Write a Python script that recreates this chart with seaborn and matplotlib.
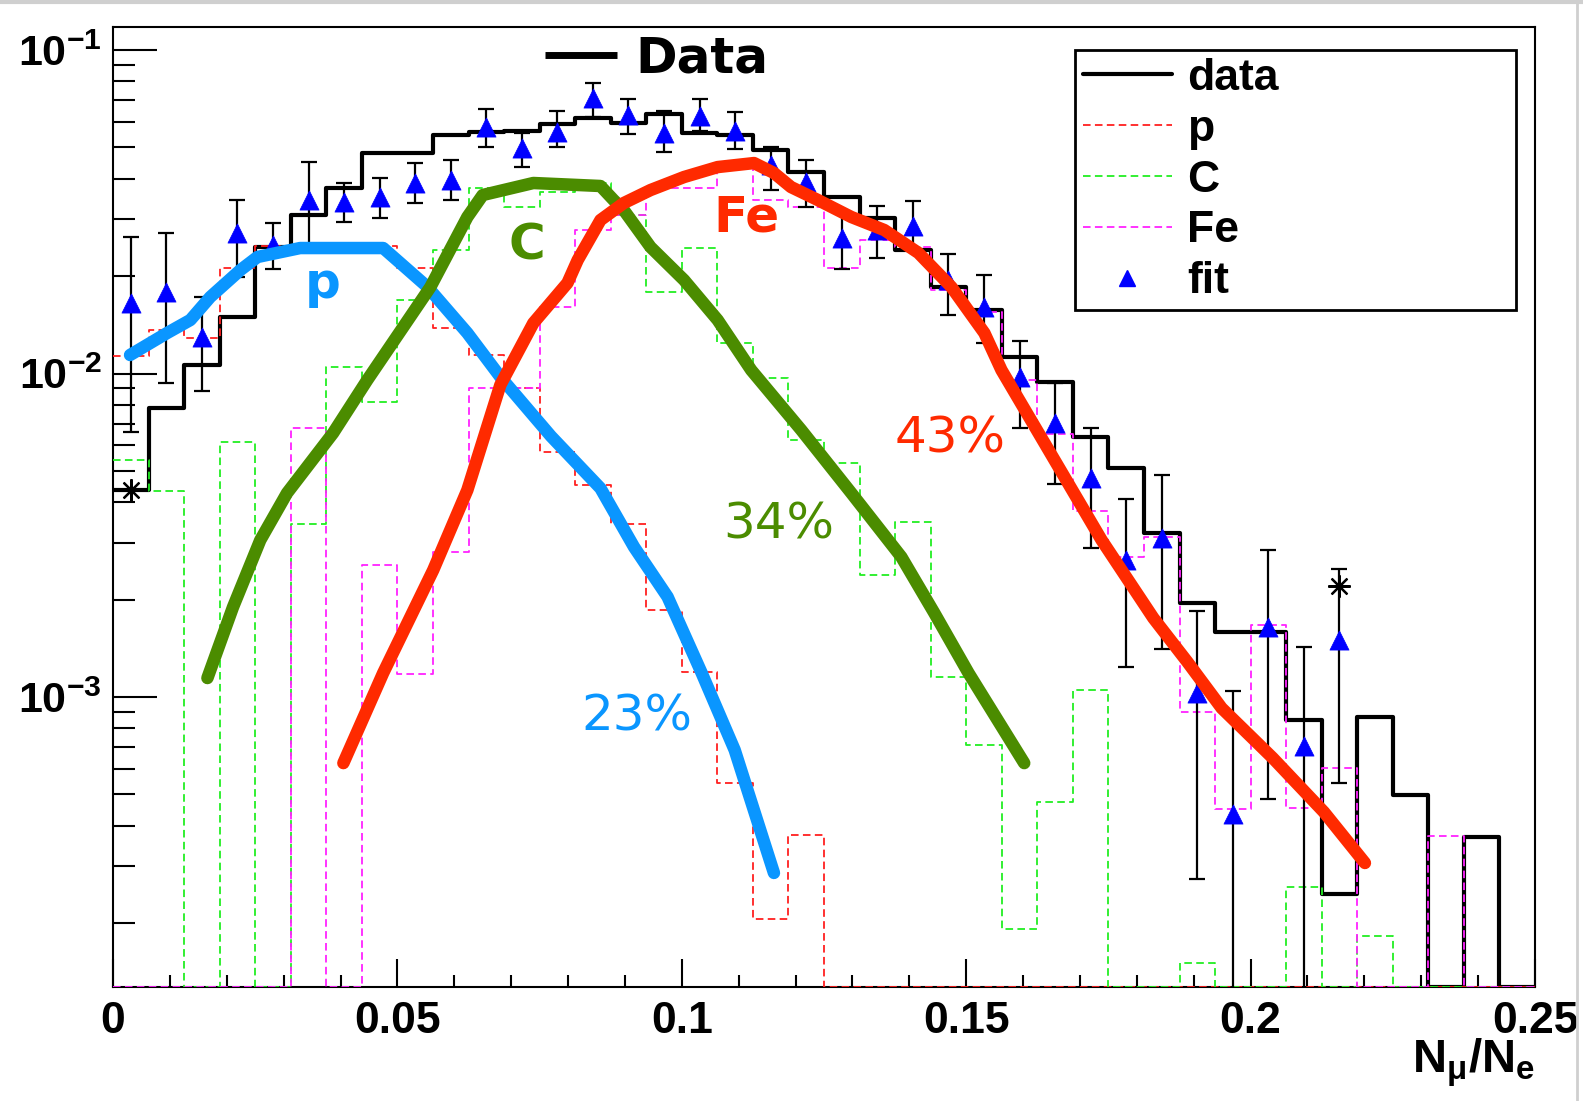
import numpy as np
import matplotlib
matplotlib.use("Agg")
import matplotlib.pyplot as plt
import seaborn as sns
from matplotlib.lines import Line2D
from matplotlib.ticker import (LogLocator, MultipleLocator, NullFormatter,
                               LogFormatterSciNotation)

# ---- data ----------------------------------------------------------------
# 40 bins of N_mu/N_e between 0 and 0.25
bin_edges = np.linspace(0.0, 0.25, 41)
bin_centers = 0.5 * (bin_edges[:-1] + bin_edges[1:])

data_hist = [0.00436, 0.00782, 0.0106, 0.01496, 0.0246, 0.0309, 0.0374, 0.0481,
             0.0481, 0.0546, 0.0557, 0.0563, 0.0590, 0.0615, 0.0596, 0.0633,
             0.0553, 0.0546, 0.0491, 0.0421, 0.0352, 0.0302, 0.0241, 0.01855,
             0.01571, 0.01127, 0.0094, 0.00637, 0.00509, 0.00321, 0.001955, 0.00159,
             0.00159, 0.000849, 0.000246, 0.000867, 0.000499, 0.0, 0.00037, 0.0]

p_hist = [0.01132, 0.01363, 0.01288, 0.0212, 0.0247, 0.0238, 0.0238, 0.0247,
          0.0212, 0.01383, 0.0114, 0.0090, 0.00572, 0.00452, 0.00343, 0.00186,
          0.001195, 0.000542, 0.000206, 0.000375] + [0.0] * 20

c_hist = [0.0054, 0.00434, 0.0, 0.00613, 0.0, 0.00343, 0.01047, 0.00818,
          0.01688, 0.0241, 0.0375, 0.0327, 0.0364, 0.0388, 0.031, 0.01787,
          0.0244, 0.0124, 0.00968, 0.00623, 0.0053, 0.00238, 0.00348, 0.001156,
          0.000711, 0.000192, 0.000475, 0.00105, 0.0, 0.0, 0.000151, 0.0,
          0.0, 0.000259, 0.0, 0.000182, 0.0, 0.0, 0.0, 0.0]

fe_hist = [0.0, 0.0, 0.0, 0.0, 0.0, 0.0068, 0.0, 0.00256,
           0.001178, 0.0028, 0.009, 0.009, 0.0161, 0.0278, 0.031, 0.0375,
           0.0375, 0.0448, 0.0344, 0.0327, 0.0212, 0.0259, 0.0246, 0.0181,
           0.0155, 0.00955, 0.0065, 0.00376, 0.00271, 0.00313, 0.000902, 0.000451,
           0.00167, 0.000455, 0.000603, 0.0, 0.0, 0.000373, 0.0, 0.0]

# fit points (first 35 bins) with lower / upper error-bar ends (0 = off the axis)
fit_vals = [0.0165, 0.0179, 0.0130, 0.0271, 0.02495, 0.0344, 0.0340, 0.0352,
            0.0387, 0.0396, 0.0579, 0.0497, 0.0559, 0.0709, 0.0630, 0.0553,
            0.0625, 0.0562, 0.0441, 0.0392, 0.0262, 0.0278, 0.0285, 0.01945,
            0.0161, 0.00977, 0.00703, 0.00475, 0.002646, 0.0031, 0.00103, 0.000435,
            0.00165, 0.000705, 0.0015]
fit_lo = [0.00661, 0.00933, 0.00885, 0.0199, 0.0210, 0.0247, 0.0293, 0.0302,
          0.0337, 0.0344, 0.0502, 0.0436, 0.0502, 0.0622, 0.0550, 0.0485,
          0.0563, 0.0493, 0.0369, 0.0328, 0.0211, 0.0227, 0.0244, 0.01518,
          0.0124, 0.00678, 0.00456, 0.00288, 0.001235, 0.00141, 0.000274, 0.0,
          0.000485, 0.0, 0.000544]
fit_hi = [0.0265, 0.0271, 0.01727, 0.0344, 0.0291, 0.0450, 0.0389, 0.0403,
          0.0449, 0.0457, 0.0658, 0.0553, 0.0648, 0.0789, 0.0706, 0.0648,
          0.0707, 0.0645, 0.0502, 0.0457, 0.0315, 0.0330, 0.0342, 0.0234,
          0.0202, 0.0126, 0.00935, 0.00678, 0.00409, 0.00486, 0.00185, 0.001045,
          0.002847, 0.001429, 0.00249]

star_bins = [0, 34]
star_vals = [0.00436, 0.0022]

# hand-drawn component curves
p_curve_x = [0.0030, 0.0095, 0.0136, 0.0171, 0.0224, 0.0254, 0.0329, 0.0475,
             0.0505, 0.0553, 0.0623, 0.0681, 0.0770, 0.0857, 0.0916, 0.0975,
             0.1035, 0.1093, 0.1162]
p_curve_y = [0.01141, 0.01334, 0.01464, 0.01724, 0.02089, 0.02292, 0.02443, 0.02443,
             0.02196, 0.01851, 0.01334, 0.00976, 0.0064, 0.00442, 0.00291, 0.00204,
             0.001186, 0.000686, 0.000286]

c_curve_x = [0.0166, 0.0211, 0.0259, 0.0306, 0.0387, 0.0447, 0.0558, 0.0623,
             0.0650, 0.0739, 0.0857, 0.0880, 0.0898, 0.0945, 0.1004, 0.1063,
             0.1122, 0.1210, 0.1298, 0.1386, 0.1444, 0.1504, 0.1602]
c_curve_y = [0.001145, 0.001897, 0.003057, 0.004272, 0.006549, 0.009548, 0.01851, 0.03047,
             0.03563, 0.03881, 0.03799, 0.0344, 0.032, 0.0246, 0.01945, 0.01464,
             0.01025, 0.00669, 0.004272, 0.00271, 0.001818, 0.001187, 0.000625]

fe_curve_x = [0.0405, 0.0475, 0.0563, 0.0623, 0.0681, 0.0739, 0.0799, 0.0817,
              0.0857, 0.0898, 0.0945, 0.1004, 0.1063, 0.1127, 0.1162, 0.1192,
              0.1239, 0.1298, 0.1356, 0.1416, 0.1474, 0.1532, 0.1562, 0.1650,
              0.1738, 0.1829, 0.1889, 0.1949, 0.2039, 0.2129, 0.2201]
fe_curve_y = [0.000625, 0.001187, 0.00247, 0.004364, 0.00922, 0.01432, 0.01905, 0.02243,
              0.02981, 0.03365, 0.03691, 0.0405, 0.04347, 0.04473, 0.04168, 0.03771,
              0.0344, 0.03047, 0.02777, 0.0236, 0.01851, 0.01334, 0.01025, 0.0056,
              0.003057, 0.001755, 0.001283, 0.000925, 0.000648, 0.000441, 0.000307]

legend_labels = ["data", "p", "C", "Fe", "fit"]
xtick_vals = [0, 0.05, 0.1, 0.15, 0.2, 0.25]
xtick_labels = ["0", "0.05", "0.1", "0.15", "0.2", "0.25"]

# ---- style ----------------------------------------------------------------
sns.set_theme(style="white")
plt.rcParams["font.family"] = ["Liberation Sans", "DejaVu Sans"]
plt.rcParams["mathtext.fontset"] = "custom"
plt.rcParams["mathtext.rm"] = "Liberation Sans"
plt.rcParams["mathtext.bf"] = "Liberation Sans:bold"
plt.rcParams["mathtext.default"] = "bf"
for key in ["text.color", "axes.labelcolor", "xtick.color", "ytick.color"]:
    plt.rcParams[key] = "black"

P_COL = "#0A96FF"
C_COL = "#4B8C00"
FE_COL = "#FF2A00"
DASH = (0, (4.2, 2.4))

Y_MIN, Y_MAX = 1.27e-4, 0.1178

fig = plt.figure(figsize=(15.83, 11.01), dpi=100)
ax = fig.add_axes([113 / 1583, 114 / 1101, 1422 / 1583, 960 / 1101])
ax.set_yscale("log")

# light screenshot border (top and right)
fig.add_artist(Line2D([0, 1], [0.998, 0.998], transform=fig.transFigure,
                      color="#CFCFCF", lw=3))
fig.add_artist(Line2D([0.9965, 0.9965], [0, 1], transform=fig.transFigure,
                      color="#CFCFCF", lw=2))


def stair_y(vals):
    # zero bins sit on the lower frame, like ROOT draws them
    v = np.asarray(vals, dtype=float)
    v = np.where(v > 0, v, Y_MIN)
    return np.append(v, v[-1])


# data histogram
sns.lineplot(x=bin_edges, y=stair_y(data_hist), drawstyle="steps-post",
             color="black", lw=3.0, ax=ax, legend=False, sort=False,
             estimator=None, zorder=3)

# component templates (dashed)
for vals, col in [(p_hist, "#FF2020"), (c_hist, "#22EE22"), (fe_hist, "#FF22FF")]:
    sns.lineplot(x=bin_edges, y=stair_y(vals), drawstyle="steps-post",
                 color=col, lw=1.3, linestyle=DASH, ax=ax, legend=False,
                 sort=False, estimator=None, zorder=4)

# fit points with error bars
fit_x = bin_centers[:len(fit_vals)]
fv = np.array(fit_vals)
lo = np.where(np.array(fit_lo) > 0, fit_lo, 1e-9)
hi = np.array(fit_hi)
ax.errorbar(fit_x, fv, yerr=[fv - lo, hi - fv], fmt="none", ecolor="black",
            elinewidth=1.6, capsize=6, capthick=1.6, zorder=5)
sns.scatterplot(x=fit_x, y=fv, marker="^", s=190, color="blue",
                edgecolor="blue", linewidth=0.5, ax=ax, legend=False, zorder=6)

ax.plot(bin_centers[star_bins], star_vals, ls="none", marker=(8, 2, 0),
        ms=16, mew=1.6, color="black", zorder=6)

# hand-drawn component curves
for cx, cy, col in [(p_curve_x, p_curve_y, P_COL), (c_curve_x, c_curve_y, C_COL),
                    (fe_curve_x, fe_curve_y, FE_COL)]:
    sns.lineplot(x=cx, y=cy, color=col, lw=9, ax=ax, legend=False, sort=False,
                 estimator=None, solid_capstyle="round", solid_joinstyle="round",
                 zorder=7)

# annotations
ann_font = ["DejaVu Sans"]
ax.text(0.0368, 0.0171, "p", color=P_COL, fontsize=36, fontweight="bold",
        family=ann_font, ha="center", va="baseline", zorder=8)
ax.text(0.0727, 0.02244, "C", color=C_COL, fontsize=36, fontweight="bold",
        family=ann_font, ha="center", va="baseline", zorder=8)
ax.text(0.1114, 0.0274, "Fe", color=FE_COL, fontsize=36, fontweight="bold",
        family=ann_font, ha="center", va="baseline", zorder=8)
ax.text(0.0921, 0.000791, "23%", color=P_COL, fontsize=36,
        family=ann_font, ha="center", va="baseline", zorder=8)
ax.text(0.1170, 0.0031, "34%", color=C_COL, fontsize=36,
        family=ann_font, ha="center", va="baseline", zorder=8)
ax.text(0.1472, 0.00572, "43%", color=FE_COL, fontsize=36,
        family=ann_font, ha="center", va="baseline", zorder=8)

ax.plot([0.3038, 0.3544], [0.9708, 0.9708], transform=ax.transAxes,
        color="black", lw=5, solid_capstyle="butt", zorder=8)
ax.text(0.3671, 0.9531, "Data", transform=ax.transAxes, fontsize=36,
        color="black", fontweight="bold", family=ann_font, ha="left",
        va="baseline", zorder=8)

# axes
ax.set_xlim(0, 0.25)
ax.set_ylim(Y_MIN, Y_MAX)
ax.set_xticks(xtick_vals, xtick_labels)
ax.xaxis.set_minor_locator(MultipleLocator(0.01))
ax.yaxis.set_major_locator(LogLocator(base=10))
ax.yaxis.set_minor_locator(LogLocator(base=10, subs=np.arange(2, 10)))
ax.yaxis.set_major_formatter(LogFormatterSciNotation())
ax.yaxis.set_minor_formatter(NullFormatter())

ax.tick_params(which="both", direction="in", width=1.5, color="black",
               labelcolor="black", bottom=True, left=True, top=False, right=False)
ax.tick_params(axis="x", which="major", length=20, pad=10, labelsize=32)
ax.tick_params(axis="x", which="minor", length=9)
ax.tick_params(axis="y", which="major", length=32, pad=8, labelsize=31)
ax.tick_params(axis="y", which="minor", length=15.5)
for t in ax.get_xticklabels() + ax.get_yticklabels():
    t.set_fontweight("bold")

for s in ax.spines.values():
    s.set_color("black")
    s.set_linewidth(1.5)

ax.set_xlabel(r"N$_{\mu}$/N$_{e}$", loc="right", fontsize=34,
              fontweight="bold", labelpad=-4)
ax.set_ylabel("")

handles = [
    Line2D([], [], color="black", lw=3),
    Line2D([], [], color="#FF2020", lw=1.3, ls=DASH),
    Line2D([], [], color="#22EE22", lw=1.3, ls=DASH),
    Line2D([], [], color="#FF22FF", lw=1.3, ls=DASH),
    Line2D([], [], color="blue", ls="none", marker="^", ms=12),
]
leg = ax.legend(handles, legend_labels, loc="upper left",
                bbox_to_anchor=(0.6765, 0.7146, 0.3101, 0.2614), mode="expand",
                borderaxespad=0, fancybox=False, edgecolor="black",
                framealpha=1, handlelength=2.0, handletextpad=0.35,
                labelspacing=0.22, borderpad=0.18,
                prop=dict(family="Liberation Sans", weight="bold", size=32))
leg.get_frame().set_linewidth(2)
leg.set_zorder(9)
for t in leg.get_texts():
    t.set_color("black")

fig.savefig("out.png", dpi=100)
